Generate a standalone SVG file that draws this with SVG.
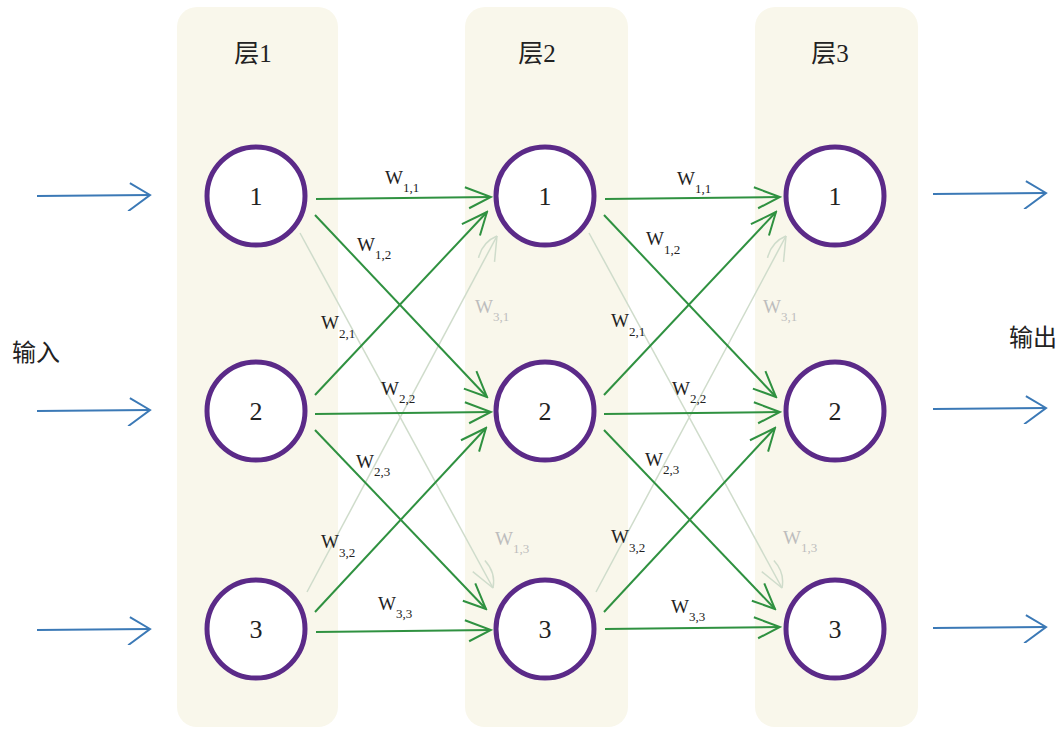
<svg xmlns="http://www.w3.org/2000/svg" width="1063" height="729" viewBox="0 0 1063 729">
<style>
.panel{fill:#f9f7eb}
.node circle{fill:#fff;stroke:#5b2a88;stroke-width:5}
.num{font-family:"Liberation Serif","Noto Serif",serif;font-size:26px;fill:#222;text-anchor:middle}
.title{font-family:"Liberation Serif","Noto Sans CJK SC",serif;font-size:25px;fill:#222;text-anchor:middle}
.io{font-family:"Noto Sans CJK SC",sans-serif;font-size:24px;fill:#222}
.w{font-family:"Liberation Serif",serif;font-size:19px;fill:#222}
.wf{font-family:"Liberation Serif",serif;font-size:19px;fill:#bdbdbd}
.sub{font-size:13px}
.g{stroke:#2f9140;stroke-width:2;fill:none;marker-end:url(#ag)}
.f{stroke:#cfdccb;stroke-width:1.5;fill:none;marker-end:url(#af)}
.b{stroke:#3b79b6;stroke-width:2;fill:none;marker-end:url(#ab)}
</style>
<defs>
<marker id="ag" viewBox="-28 -14 30 28" refX="0" refY="0" markerWidth="30" markerHeight="28" markerUnits="userSpaceOnUse" orient="auto">
<path d="M-26,-10 L0,0 L-22,11" fill="none" stroke="#2f9140" stroke-width="2"/>
</marker>
<marker id="af" viewBox="-30 -14 32 28" refX="0" refY="0" markerWidth="32" markerHeight="28" markerUnits="userSpaceOnUse" orient="auto">
<path d="M-28,-6 Q-12,-10 0,0 M0,0 L-24,10" fill="none" stroke="#cfdccb" stroke-width="1.5"/>
</marker>
<marker id="ab" viewBox="-24 -16 26 32" refX="0" refY="0" markerWidth="26" markerHeight="32" markerUnits="userSpaceOnUse" orient="auto">
<path d="M-20,-12 L0,0 L-22,16" fill="none" stroke="#3b79b6" stroke-width="2"/>
</marker>
</defs>
<rect width="1063" height="729" fill="#fff"/>
<g id="panels">
<rect class="panel" x="177" y="7" width="161" height="720" rx="20"/>
<rect class="panel" x="465" y="7" width="163" height="720" rx="20"/>
<rect class="panel" x="755" y="7" width="163" height="720" rx="20"/>
<text class="title" x="253" y="62">层1</text>
<text class="title" x="537" y="62">层2</text>
<text class="title" x="830" y="62">层3</text>
<text class="io" x="12" y="361">输入</text>
<text class="io" x="1009" y="346">输出</text>
</g>
<g id="connectors">
<line class="b" x1="37" y1="196" x2="150" y2="195"/>
<line class="b" x1="37" y1="411" x2="150" y2="410"/>
<line class="b" x1="37" y1="630" x2="150" y2="629"/>
<line class="b" x1="933" y1="194" x2="1046" y2="193"/>
<line class="b" x1="933" y1="409" x2="1046" y2="408"/>
<line class="b" x1="933" y1="628" x2="1046" y2="627"/>
<line class="f" x1="300" y1="233" x2="493" y2="588"/>
<line class="f" x1="307" y1="592" x2="497" y2="236"/>
<line class="g" x1="316" y1="199" x2="491" y2="197"/>
<line class="g" x1="315" y1="215" x2="487" y2="397"/>
<line class="g" x1="315" y1="395" x2="487" y2="212"/>
<line class="g" x1="315" y1="414" x2="491" y2="412"/>
<line class="g" x1="315" y1="430" x2="486" y2="609"/>
<line class="g" x1="315" y1="612" x2="486" y2="428"/>
<line class="g" x1="316" y1="632" x2="491" y2="630"/>
<line class="f" x1="589" y1="233" x2="782" y2="588"/>
<line class="f" x1="596" y1="592" x2="786" y2="236"/>
<line class="g" x1="605" y1="199" x2="780" y2="197"/>
<line class="g" x1="604" y1="215" x2="776" y2="397"/>
<line class="g" x1="604" y1="395" x2="776" y2="212"/>
<line class="g" x1="604" y1="414" x2="780" y2="412"/>
<line class="g" x1="604" y1="430" x2="775" y2="609"/>
<line class="g" x1="604" y1="612" x2="775" y2="428"/>
<line class="g" x1="605" y1="629" x2="780" y2="627"/>
</g>
<g id="labels">
<text class="w" x="385" y="184">W<tspan class="sub" dy="8">1,1</tspan></text>
<text class="w" x="357" y="251">W<tspan class="sub" dy="8">1,2</tspan></text>
<text class="w" x="321" y="329">W<tspan class="sub" dy="9">2,1</tspan></text>
<text class="wf" x="475" y="313">W<tspan class="sub" dy="8">3,1</tspan></text>
<text class="w" x="381" y="395">W<tspan class="sub" dy="8">2,2</tspan></text>
<text class="w" x="356" y="468">W<tspan class="sub" dy="8">2,3</tspan></text>
<text class="w" x="321" y="548">W<tspan class="sub" dy="9">3,2</tspan></text>
<text class="wf" x="495" y="545">W<tspan class="sub" dy="8">1,3</tspan></text>
<text class="w" x="378" y="610">W<tspan class="sub" dy="8">3,3</tspan></text>
<text class="w" x="677" y="185">W<tspan class="sub" dy="8">1,1</tspan></text>
<text class="w" x="646" y="245">W<tspan class="sub" dy="9">1,2</tspan></text>
<text class="w" x="611" y="327">W<tspan class="sub" dy="9">2,1</tspan></text>
<text class="wf" x="763" y="313">W<tspan class="sub" dy="8">3,1</tspan></text>
<text class="w" x="672" y="395">W<tspan class="sub" dy="8">2,2</tspan></text>
<text class="w" x="645" y="466">W<tspan class="sub" dy="8">2,3</tspan></text>
<text class="w" x="611" y="543">W<tspan class="sub" dy="9">3,2</tspan></text>
<text class="wf" x="783" y="544">W<tspan class="sub" dy="8">1,3</tspan></text>
<text class="w" x="671" y="613">W<tspan class="sub" dy="8">3,3</tspan></text>
</g>
<g id="n1-1" class="node"><circle cx="256" cy="196" r="49"/><text class="num" x="256" y="205">1</text></g>
<g id="n1-2" class="node"><circle cx="256" cy="411" r="49"/><text class="num" x="256" y="420">2</text></g>
<g id="n1-3" class="node"><circle cx="256" cy="629" r="49"/><text class="num" x="256" y="638">3</text></g>
<g id="n2-1" class="node"><circle cx="545" cy="196" r="49"/><text class="num" x="545" y="205">1</text></g>
<g id="n2-2" class="node"><circle cx="545" cy="411" r="49"/><text class="num" x="545" y="420">2</text></g>
<g id="n2-3" class="node"><circle cx="545" cy="629" r="49"/><text class="num" x="545" y="638">3</text></g>
<g id="n3-1" class="node"><circle cx="835" cy="196" r="49"/><text class="num" x="835" y="205">1</text></g>
<g id="n3-2" class="node"><circle cx="835" cy="411" r="49"/><text class="num" x="835" y="420">2</text></g>
<g id="n3-3" class="node"><circle cx="835" cy="629" r="49"/><text class="num" x="835" y="638">3</text></g>
</svg>
